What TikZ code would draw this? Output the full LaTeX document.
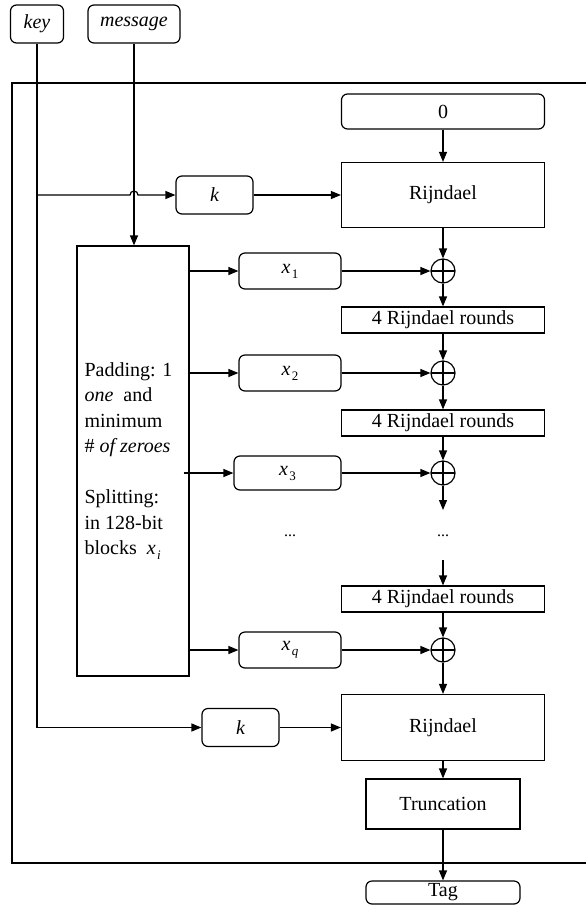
\documentclass[tikz,border=0pt]{standalone}
\usepackage{fontspec}
\setmainfont{Liberation Serif}
\usetikzlibrary{arrows.meta}
\newcommand\xsub[1]{{\itshape x}\kern1.5pt\raisebox{-5pt}{\fontsize{13}{13}\selectfont #1}}
\begin{document}
\begin{tikzpicture}[x=1pt,y=-1pt,line width=1.2pt,
  every node/.style={font=\fontsize{20}{24}\selectfont, inner sep=0pt},
  rbox/.style={draw, rounded corners=6pt},
  sbox/.style={draw},
  xorn/.style={draw, circle, minimum size=24pt,
    path picture={\draw (path picture bounding box.north)--(path picture bounding box.south)
      (path picture bounding box.west)--(path picture bounding box.east);}},
  arr/.style={-{Triangle[length=10pt,width=8pt]}}]
\useasboundingbox (0,0) rectangle (586,908);
% frame
\draw (586,83) -- (12,83) -- (12,863) -- (586,863);
% inputs
\node[rbox, minimum width=53, minimum height=38] (key) at (37,24) {\itshape key};
\node[rbox, minimum width=92, minimum height=38] (msg) at (134,24) {\itshape message};
% right column
\node[rbox, minimum width=203, minimum height=35] (zero) at (443,111.5) {0};
\node[sbox, minimum width=203, minimum height=65] (rij1) at (443,195) {Rijndael};
\node[rbox, minimum width=77, minimum height=38] (kt) at (214.5,195) {\itshape k};
\node[xorn] (xo1) at (443,271) {};
\node[sbox, minimum width=203, minimum height=26] (r1) at (443,320) {4 Rijndael rounds};
\node[xorn] (xo2) at (443,373) {};
\node[sbox, minimum width=203, minimum height=26] (r2) at (443,423) {4 Rijndael rounds};
\node[xorn] (xo3) at (443,473) {};
\coordinate (d1) at (443,510);
\node[font=\fontsize{16}{16}\selectfont] (dotsR) at (443,536) {...};
\node[font=\fontsize{16}{16}\selectfont] (dotsL) at (290,536) {...};
\coordinate (d2) at (443,560);
\node[sbox, minimum width=203, minimum height=26] (r3) at (443,599) {4 Rijndael rounds};
\node[xorn] (xoq) at (443,650) {};
\node[sbox, minimum width=203, minimum height=66] (rij2) at (443,727.5) {Rijndael};
\node[rbox, minimum width=77, minimum height=38] (kb) at (240.5,727.5) {\itshape k};
\node[sbox, minimum width=154, minimum height=50] (trunc) at (443,804) {Truncation};
\node[rbox, minimum width=154, minimum height=23] (tag) at (443,892.5) {Tag};
% padding box
\node[sbox, minimum width=112, minimum height=430] (pad) at (133,461) {};
\node[anchor=north west, align=left, font=\fontsize{20}{25.5}\selectfont] (padtxt) at (84,362)
  {Padding: 1\\ \textit{one}\ \ and\\ minimum\\ \# \textit{of zeroes}\\[25.5pt]
   Splitting:\\ in 128-bit\\ blocks\ \ \xsub{\itshape i}};
% x boxes
\node[rbox, minimum width=102, minimum height=36] (x1) at (290,271) {\xsub{1}};
\node[rbox, minimum width=102, minimum height=36] (x2) at (290,373) {\xsub{2}};
\node[rbox, minimum width=107, minimum height=34] (x3) at (287.5,473) {\xsub{3}};
\node[rbox, minimum width=102, minimum height=36] (xq) at (290,650) {\xsub{\itshape q}};
% key lines
\draw[arr] (key.south) |- (kb.west);
\draw[arr] (key.south |- kt.west) -- (130,195) arc (180:360:4) -- (kt.west);
\draw[arr] (msg.south) -- (msg.south |- pad.north);
\draw[arr] (kt) -- (rij1);
\draw[arr] (kb) -- (rij2);
% padding outputs
\draw[arr] (pad.east |- x1.west) -- (x1.west);
\draw[arr] (pad.east |- x2.west) -- (x2.west);
\draw[arr] ([xshift=-6pt]pad.east |- x3.west) -- (x3.west);
\draw[arr] (pad.east |- xq.west) -- (xq.west);
\draw[arr] (x1) -- (xo1);
\draw[arr] (x2) -- (xo2);
\draw[arr] (x3) -- (xo3);
\draw[arr] (xq) -- (xoq);
% main chain
\draw[arr] (zero) -- (rij1);
\draw[arr] (rij1) -- (xo1);
\draw[arr] (xo1) -- (r1);
\draw[arr] (r1) -- (xo2);
\draw[arr] (xo2) -- (r2);
\draw[arr] (r2) -- (xo3);
\draw[arr] (xo3) -- (d1);
\draw[arr] (d2) -- (r3);
\draw[arr] (r3) -- (xoq);
\draw[arr] (xoq) -- (rij2);
\draw[arr] (rij2) -- (trunc);
\draw[arr] (trunc) -- (tag);
\end{tikzpicture}
\end{document}
